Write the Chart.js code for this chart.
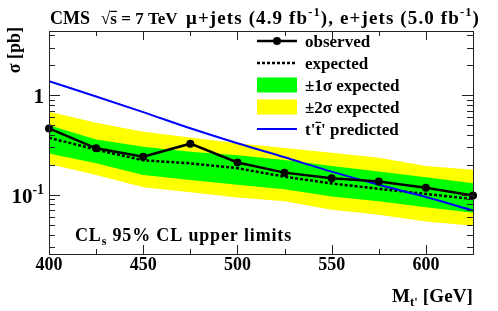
<!DOCTYPE html>
<html><head><meta charset="utf-8">
<script src="https://cdn.jsdelivr.net/npm/chart.js@4/dist/chart.umd.min.js"></script>
<style>html,body{margin:0;padding:0;background:#fff}#c{display:block}</style>
</head><body>
<div style="width:498px;height:311px"><canvas id="c" width="498" height="311"></canvas></div>
<script>
const masses   = [400, 425, 450, 475, 500, 525, 550, 575, 600, 625];
const observed = [0.464, 0.293, 0.241, 0.326, 0.211, 0.167, 0.147, 0.136, 0.118, 0.0985];
const expected = [0.374, 0.284, 0.222, 0.207, 0.185, 0.152, 0.130, 0.115, 0.102, 0.091];
const plus1    = [0.500, 0.360, 0.304, 0.270, 0.250, 0.224, 0.195, 0.171, 0.150, 0.131];
const minus1   = [0.260, 0.207, 0.158, 0.141, 0.126, 0.114, 0.096, 0.086, 0.075, 0.066];
const plus2    = [0.680, 0.530, 0.430, 0.375, 0.330, 0.295, 0.265, 0.235, 0.195, 0.178];
const minus2   = [0.204, 0.158, 0.119, 0.106, 0.094, 0.086, 0.071, 0.063, 0.054, 0.049];
const theory   = [1.38, 0.97, 0.676, 0.465, 0.329, 0.238, 0.171, 0.126, 0.095, 0.0697];
const xTicks   = [400, 450, 500, 550, 600];
const yLabels  = [{v: 1, base: '1', exp: ''}, {v: 0.1, base: '10', exp: '-1'}];

const pts = arr => masses.map((m, i) => ({x: m, y: arr[i]}));
const SERIF = '"Liberation Serif", "Times New Roman", serif';
const F = sz => `bold ${sz}px ${SERIF}`;

function rich(ctx, parts, x, y, size, align, target) {
  let total = 0, n = 0;
  ctx.letterSpacing = '0px';
  parts.forEach(p => { ctx.font = F(p.s ? size * 0.66 : size); p.w0 = ctx.measureText(p.t).width; total += p.w0; n += [...p.t].length; });
  const ls = target ? Math.max(0, (target - total) / n) : 0;
  parts.forEach(p => { p.w = p.w0 + ls * [...p.t].length; });
  const W = total + ls * n;
  let cx = align === 'right' ? x - W : x;
  ctx.letterSpacing = ls + 'px';
  parts.forEach(p => {
    ctx.font = F(p.s ? size * 0.66 : size);
    const dy = p.s === 'sup' ? -size * 0.4 : p.s === 'sub' ? size * 0.22 : 0;
    ctx.fillText(p.t, cx, y + dy);
    if (p.over) {
      ctx.save(); ctx.lineWidth = 1.2; ctx.strokeStyle = '#000';
      ctx.beginPath(); ctx.moveTo(cx, y - size * 0.74); ctx.lineTo(cx + p.w0, y - size * 0.74); ctx.stroke();
      ctx.restore();
    }
    cx += p.w;
  });
  ctx.letterSpacing = '0px';
  return W;
}

const decor = {
  id: 'decor',
  afterDatasetsDraw(chart) {
    const {ctx, chartArea: a, scales: {x, y}} = chart;
    ctx.save();
    ctx.strokeStyle = '#222'; ctx.lineWidth = 1;
    ctx.strokeRect(a.left + 0.5, a.top + 0.5, a.right - a.left, a.bottom - a.top);
    ctx.beginPath();
    for (let v = 400; v <= 625; v += 25) {
      const px = Math.round(x.getPixelForValue(v)) + 0.5;
      const L = v % 50 === 0 ? 9 : 5;
      ctx.moveTo(px, a.bottom); ctx.lineTo(px, a.bottom - L);
      ctx.moveTo(px, a.top); ctx.lineTo(px, a.top + L);
    }
    for (let e = -2; e <= 1; e++) {
      for (let m = 1; m <= 9; m++) {
        const v = m * Math.pow(10, e);
        if (v < y.min || v > y.max) continue;
        const py = Math.round(y.getPixelForValue(v)) + 0.5;
        const L = m === 1 ? 11 : 6;
        ctx.moveTo(a.left, py); ctx.lineTo(a.left + L, py);
        ctx.moveTo(a.right, py); ctx.lineTo(a.right - L, py);
      }
    }
    ctx.stroke();

    ctx.fillStyle = '#000'; ctx.textBaseline = 'alphabetic'; ctx.textAlign = 'left';
    yLabels.forEach(l => {
      const py = y.getPixelForValue(l.v);
      const parts = [{t: l.base}];
      if (l.exp) parts.push({t: l.exp, s: 'sup'});
      rich(ctx, parts, 44, py + 8, 21, 'right');
    });
    rich(ctx, [{t: 'CMS'}], 50, 24, 18);
    rich(ctx, [{t: '\u221A'}, {t: 's', over: true}, {t: ' = 7 TeV'}], 101, 24, 17);
    rich(ctx, [{t: '\u03BC+jets (4.9 fb'}, {t: '-1', s: 'sup'}, {t: '), e+jets (5.0 fb'}, {t: '-1', s: 'sup'}, {t: ')'}], 186, 24, 19, 'left', 294);
    rich(ctx, [{t: 'CL'}, {t: 's', s: 'sub'}, {t: ' 95% CL upper limits'}], 75, 241, 18, 'left', 217);
    rich(ctx, [{t: 'M'}, {t: "t'", s: 'sub'}, {t: ' [GeV]'}], 473, 302, 19, 'right', 81);
    ctx.save();
    ctx.translate(20, 27); ctx.rotate(-Math.PI / 2);
    rich(ctx, [{t: '\u03C3 [pb]'}], 0, 0, 18, 'right');
    ctx.restore();

    const lx0 = 257, lx1 = 297, tx = 305;
    const rows = [41, 63, 85, 107, 129];
    ctx.lineWidth = 2.5; ctx.strokeStyle = '#000';
    ctx.beginPath(); ctx.moveTo(lx0, rows[0]); ctx.lineTo(lx1, rows[0]); ctx.stroke();
    ctx.beginPath(); ctx.arc((lx0 + lx1) / 2, rows[0], 4, 0, Math.PI * 2); ctx.fill();
    ctx.setLineDash([3, 2]);
    ctx.beginPath(); ctx.moveTo(lx0, rows[1]); ctx.lineTo(lx1, rows[1]); ctx.stroke();
    ctx.setLineDash([]);
    ctx.fillStyle = '#00ff00'; ctx.fillRect(lx0, rows[2] - 7.5, lx1 - lx0, 15);
    ctx.fillStyle = '#ffff00'; ctx.fillRect(lx0, rows[3] - 7.5, lx1 - lx0, 15);
    ctx.strokeStyle = '#0000ff'; ctx.lineWidth = 2;
    ctx.beginPath(); ctx.moveTo(lx0, rows[4]); ctx.lineTo(lx1, rows[4]); ctx.stroke();
    ctx.fillStyle = '#000';
    rich(ctx, [{t: 'observed'}], tx, rows[0] + 6, 17);
    rich(ctx, [{t: 'expected'}], tx, rows[1] + 6, 17);
    rich(ctx, [{t: '\u00B11\u03C3 expected'}], tx, rows[2] + 6, 17);
    rich(ctx, [{t: '\u00B12\u03C3 expected'}], tx, rows[3] + 6, 17);
    rich(ctx, [{t: "t'"}, {t: 't', over: true}, {t: "' predicted"}], tx, rows[4] + 6, 17);
    ctx.restore();
  }
};

new Chart(document.getElementById('c'), {
  type: 'line',
  data: {
    datasets: [
      {label: '+2s', data: pts(plus2), borderWidth: 0, pointRadius: 0, backgroundColor: '#ffff00', fill: '+1', tension: 0, order: 6},
      {label: '-2s', data: pts(minus2), borderWidth: 0, pointRadius: 0, fill: false, tension: 0, order: 6},
      {label: '+1s', data: pts(plus1), borderWidth: 0, pointRadius: 0, backgroundColor: '#00ff00', fill: '+1', tension: 0, order: 5},
      {label: '-1s', data: pts(minus1), borderWidth: 0, pointRadius: 0, fill: false, tension: 0, order: 5},
      {label: 'expected', data: pts(expected), borderColor: '#000', borderWidth: 2.5, borderDash: [3, 2], pointRadius: 0, fill: false, tension: 0, order: 3},
      {label: 'theory', data: pts(theory), borderColor: '#0000ff', borderWidth: 2, pointRadius: 0, fill: false, cubicInterpolationMode: 'monotone', order: 2},
      {label: 'observed', data: pts(observed), borderColor: '#000', borderWidth: 2.5, pointRadius: 4, pointBackgroundColor: '#000', pointBorderWidth: 0, fill: false, tension: 0, clip: 8, order: 1}
    ]
  },
  options: {
    responsive: false, animation: false, devicePixelRatio: 1,
    layout: {padding: {left: 49, right: 25, top: 31, bottom: 0}},
    plugins: {legend: {display: false}, tooltip: {enabled: false}, title: {display: false}},
    scales: {
      x: {
        type: 'linear', min: 400, max: 625,
        grid: {display: false, drawTicks: false}, border: {display: false},
        ticks: {padding: 1, color: '#000', font: {family: SERIF, size: 18, weight: 'bold'}, maxRotation: 0},
        afterBuildTicks: s => { s.ticks = xTicks.map(v => ({value: v})); },
        afterFit: s => { s.height = 57; }
      },
      y: {type: 'logarithmic', min: 0.0255, max: 4.4, display: false}
    }
  },
  plugins: [decor]
});
</script>
</body></html>
